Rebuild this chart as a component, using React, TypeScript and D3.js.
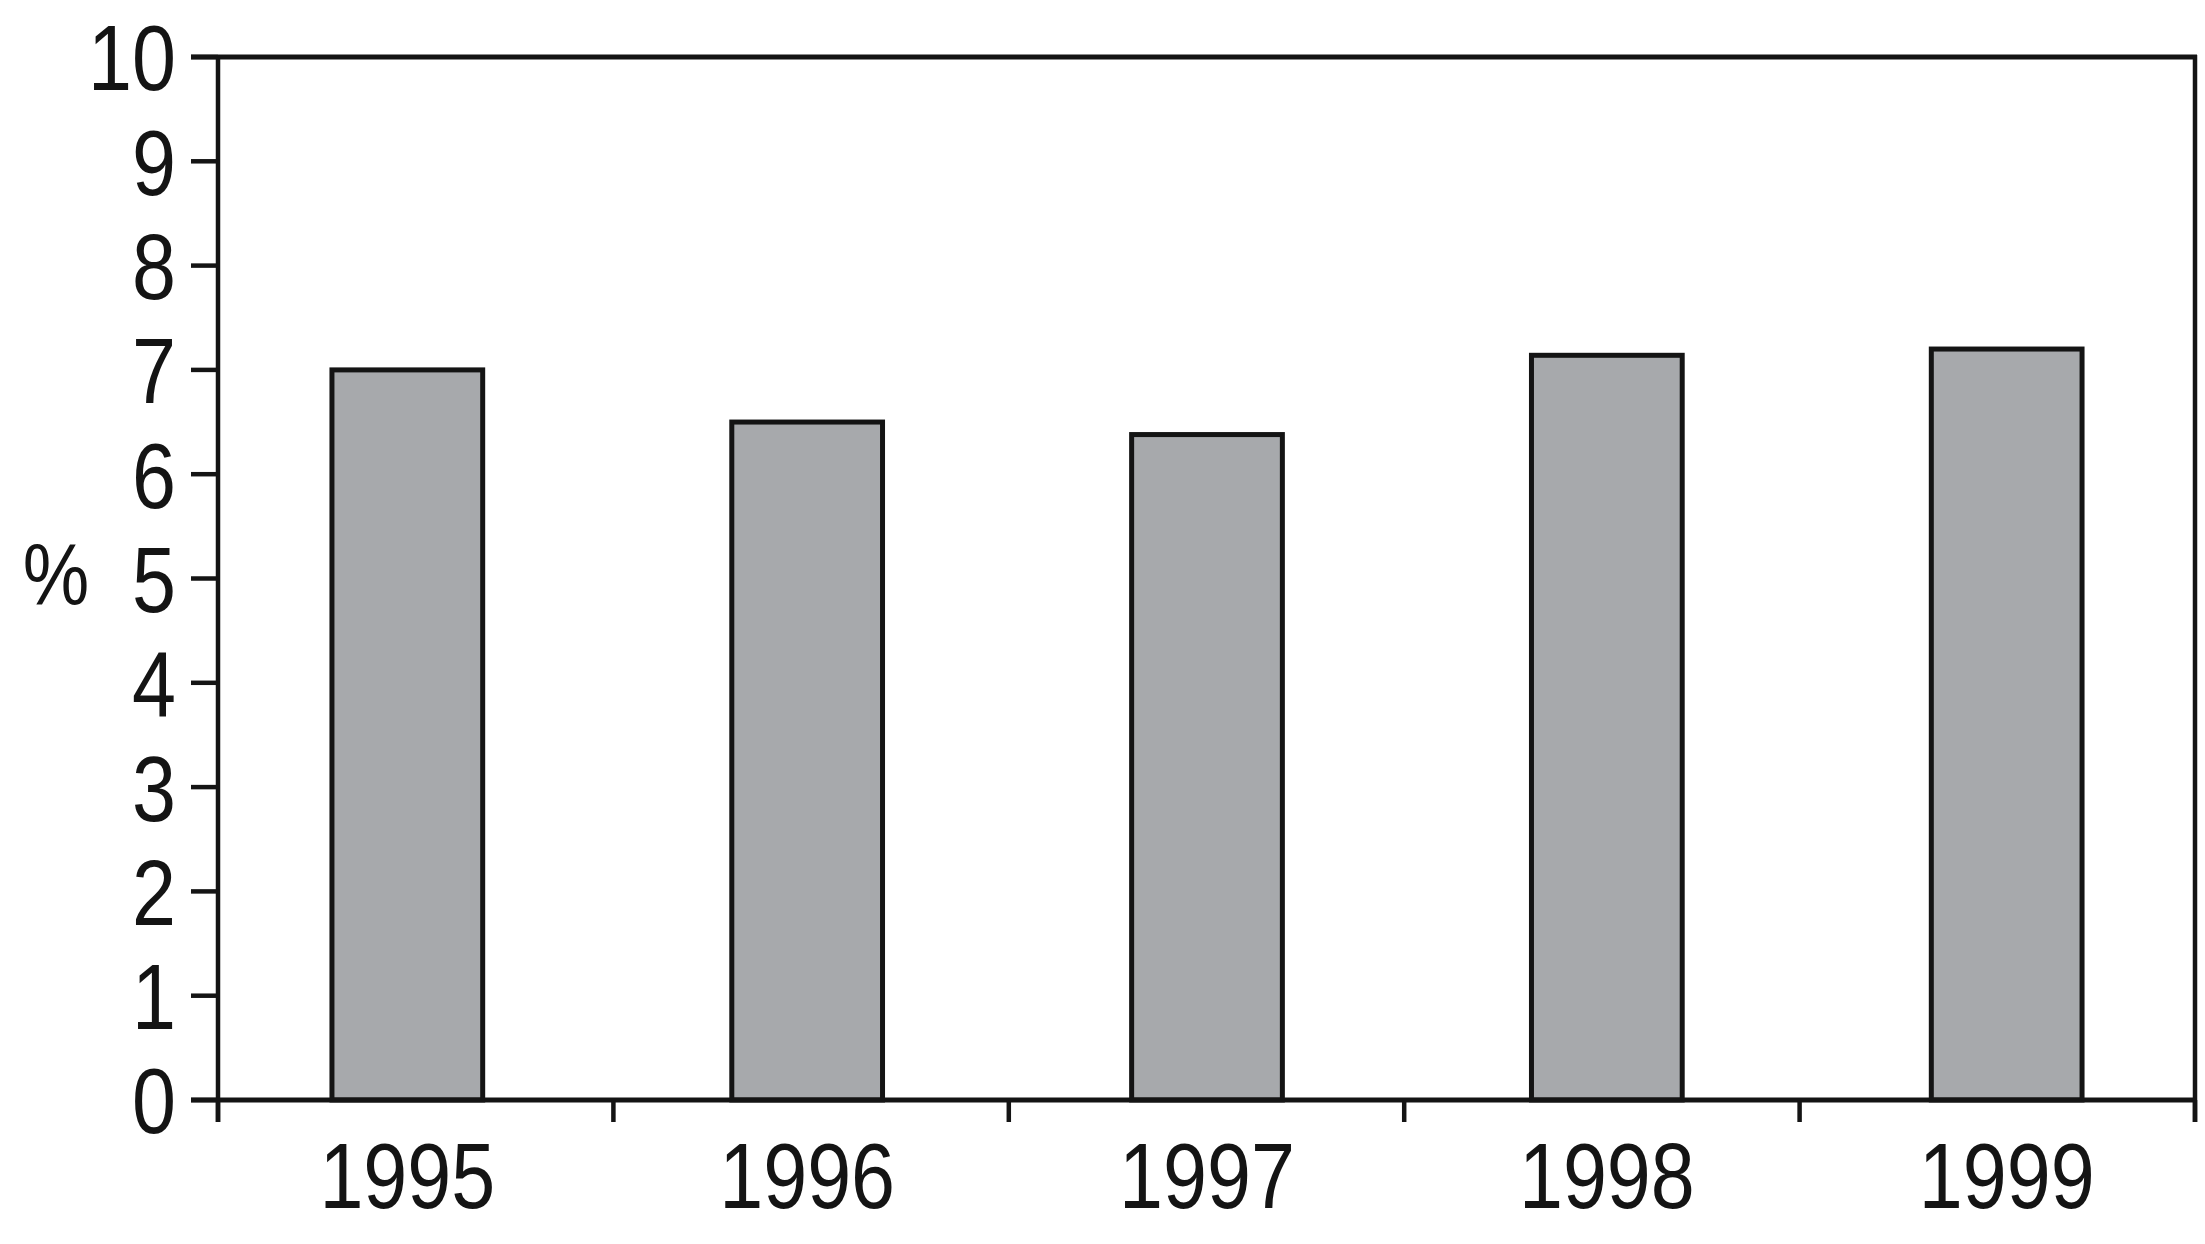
import React from "react";
import * as d3 from "d3";

const years = ["1995", "1996", "1997", "1998", "1999"];
const values = [7.0, 6.5, 6.38, 7.14, 7.2];
const yTicks = [0, 1, 2, 3, 4, 5, 6, 7, 8, 9, 10];
const yLabel = "%";

const W = 2205;
const H = 1244;
const left = 218;
const right = 2195;
const top = 57;
const bottom = 1100;

const FONT = "'Liberation Sans', Arial, sans-serif";
const SX = 0.85;
const INK = "#141414";

export default function App() {
  const x = d3.scaleBand<string>().domain(years).range([208, 2206]).paddingInner(0.623).paddingOuter(0.31);
  const y = d3.scaleLinear().domain([0, 10]).range([bottom, top]);
  const bandEdges = d3.range(years.length + 1).map((i) => left + (i * (right - left)) / years.length);

  return (
    <svg width={W} height={H} style={{ position: "absolute", left: 0, top: 0, background: "#fff" }}>
      <rect x={0} y={0} width={W} height={H} fill="#fff" />
      {years.map((yr, i) => (
        <rect
          key={yr}
          x={x(yr)!}
          y={y(values[i])}
          width={x.bandwidth()}
          height={bottom - y(values[i])}
          fill="#a7a9ac"
          stroke={INK}
          strokeWidth={5}
        />
      ))}
      {/* frame */}
      <line x1={left} y1={top} x2={left} y2={bottom + 22} stroke={INK} strokeWidth={4.5} />
      <line x1={right} y1={top - 2} x2={right} y2={bottom + 22} stroke={INK} strokeWidth={4.5} />
      <line x1={left - 27} y1={top} x2={right + 2} y2={top} stroke={INK} strokeWidth={5} />
      <line x1={left - 27} y1={bottom} x2={right + 2} y2={bottom} stroke={INK} strokeWidth={5} />
      {yTicks.map((t) => (
        <g key={t}>
          <line x1={left - 27} y1={y(t)} x2={left} y2={y(t)} stroke={INK} strokeWidth={4.5} />
          <text
            transform={`translate(${left - 42},${y(t)}) scale(${SX},1)`}
            dy="0.36em"
            textAnchor="end"
            fontFamily={FONT}
            fontSize={93}
            fill={INK}
          >
            {t}
          </text>
        </g>
      ))}
      {bandEdges.map((bx, i) => (
        <line key={i} x1={bx} y1={bottom} x2={bx} y2={bottom + 22} stroke={INK} strokeWidth={4.5} />
      ))}
      {years.map((yr) => (
        <text
          key={yr}
          transform={`translate(${x(yr)! + x.bandwidth() / 2},${1208}) scale(${SX},1)`}
          textAnchor="middle"
          fontFamily={FONT}
          fontSize={93}
          fill={INK}
        >
          {yr}
        </text>
      ))}
      <text
        transform={`translate(56,572) scale(${SX},1)`}
        dy="0.36em"
        textAnchor="middle"
        fontFamily={FONT}
        fontSize={88}
        fill={INK}
      >
        {yLabel}
      </text>
    </svg>
  );
}
